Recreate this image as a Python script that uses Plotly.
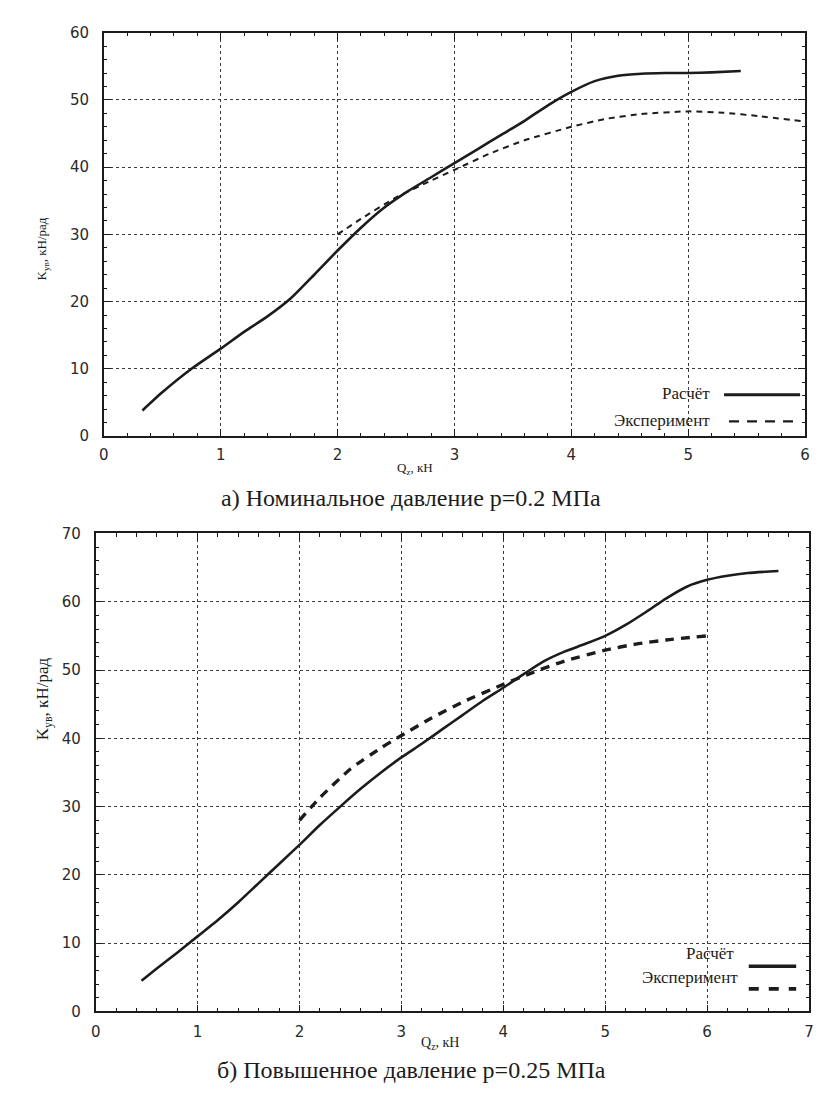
import plotly.graph_objects as go

# ---------- data: panel (a) nominal pressure p=0.2 MPa ----------
qa_calc = [0.33, 0.5, 0.75, 1.0, 1.2, 1.4, 1.6, 1.8, 2.0, 2.2, 2.4, 2.6, 2.8, 3.0,
           3.2, 3.4, 3.6, 3.8, 4.0, 4.2, 4.4, 4.6, 4.8, 5.0, 5.2, 5.45]
ka_calc = [3.8, 6.5, 10.0, 13.0, 15.5, 17.8, 20.5, 24.0, 27.6, 31.0, 34.0, 36.4, 38.5, 40.6,
           42.7, 44.8, 46.9, 49.2, 51.2, 52.8, 53.6, 53.9, 54.0, 54.0, 54.1, 54.3]
qa_exp = [2.0, 2.2, 2.5, 2.8, 3.0, 3.3, 3.6, 4.0, 4.3, 4.6, 5.0, 5.3, 5.6, 6.0]
ka_exp = [30.0, 32.3, 35.5, 38.0, 39.6, 42.0, 44.0, 46.0, 47.2, 47.9, 48.3, 48.1, 47.6, 46.8]

# ---------- data: panel (б) raised pressure p=0.25 MPa ----------
qb_calc = [0.45, 0.6, 0.8, 1.0, 1.2, 1.4, 1.6, 1.8, 2.0, 2.2, 2.4, 2.6, 2.8, 3.0,
           3.2, 3.4, 3.6, 3.8, 4.0, 4.2, 4.4, 4.6, 4.8, 5.0, 5.2, 5.4, 5.6, 5.8,
           6.0, 6.2, 6.4, 6.7]
kb_calc = [4.5, 6.3, 8.6, 11.0, 13.4, 16.0, 18.8, 21.6, 24.4, 27.3, 30.0, 32.6, 35.0, 37.2,
           39.2, 41.3, 43.4, 45.5, 47.4, 49.4, 51.3, 52.7, 53.8, 55.0, 56.6, 58.5, 60.5, 62.2,
           63.2, 63.8, 64.2, 64.5]
qb_exp = [2.0, 2.2, 2.5, 2.8, 3.0, 3.3, 3.6, 4.0, 4.3, 4.6, 5.0, 5.3, 5.6, 6.0]
kb_exp = [28.0, 31.3, 35.5, 38.6, 40.4, 43.0, 45.3, 47.9, 49.7, 51.3, 52.9, 53.8, 54.4, 55.0]

xticks_a = [0, 1, 2, 3, 4, 5, 6]
yticks_a = [0, 10, 20, 30, 40, 50, 60]
xticks_b = [0, 1, 2, 3, 4, 5, 6, 7]
yticks_b = [0, 10, 20, 30, 40, 50, 60, 70]

# page is 823x1118; the html body has an 8px margin on every side
PAGE_W, PAGE_H, BODY = 823, 1118, 8
W, H = PAGE_W - 2 * BODY, PAGE_H - 2 * BODY
def px(x):
    return min(1.0, max(0.0, (x - BODY) / W))
def py(y):
    return min(1.0, max(0.0, 1 - (y - BODY) / H))

INK = "#1c1c1c"
SERIF = "Liberation Serif"
SANS = "DejaVu Sans"

fig = go.Figure()
fig.add_trace(go.Scatter(x=qa_calc, y=ka_calc, mode="lines", xaxis="x", yaxis="y",
                         line=dict(color=INK, width=2.6, shape="spline", smoothing=0.6),
                         name="Расчёт", showlegend=False))
fig.add_trace(go.Scatter(x=qa_exp, y=ka_exp, mode="lines", xaxis="x", yaxis="y",
                         line=dict(color=INK, width=2.0, dash="6px,5px", shape="spline", smoothing=0.6),
                         name="Эксперимент", showlegend=False))
fig.add_trace(go.Scatter(x=qb_calc, y=kb_calc, mode="lines", xaxis="x2", yaxis="y2",
                         line=dict(color=INK, width=2.6, shape="spline", smoothing=0.6),
                         name="Расчёт", showlegend=False))
fig.add_trace(go.Scatter(x=qb_exp, y=kb_exp, mode="lines", xaxis="x2", yaxis="y2",
                         line=dict(color=INK, width=3.4, dash="9px,7px", shape="spline", smoothing=0.6),
                         name="Эксперимент", showlegend=False))

def axis(rng, ticks, minor_dtick, domain, anchor, standoff):
    return dict(
        range=rng, tickvals=ticks, domain=domain, anchor=anchor,
        showline=True, linecolor=INK, linewidth=1.6, mirror="allticks",
        ticks="inside", ticklen=7, tickwidth=1.3, tickcolor=INK,
        minor=dict(ticks="inside", dtick=minor_dtick, ticklen=3.5, tickwidth=1, tickcolor=INK,
                   showgrid=False),
        showgrid=True, gridcolor="#3a3a3a", gridwidth=1, griddash="dot",
        zeroline=False, tickfont=dict(family=SANS, size=15, color="#2a2a2a"),
        ticklabelstandoff=standoff,
        fixedrange=True,
    )

fig.update_layout(
    width=W, height=H, paper_bgcolor="white", plot_bgcolor="white",
    margin=dict(l=0, r=0, t=0, b=0),
    xaxis=axis([0, 6], xticks_a, 0.2, [px(100), px(810)], "y", 4),
    yaxis=axis([0, 60], yticks_a, 2, [py(434), py(24)], "x", 10),
    xaxis2=axis([0, 7], xticks_b, 0.2, [px(91.7), px(814)], "y2", 6),
    yaxis2=axis([0, 70], yticks_b, 2, [py(1019), py(533)], "x2", 10),
)

ann = []
# axis titles
ann.append(dict(text="K<sub>ув</sub>, кН/рад", x=px(27), y=py(210), xref="paper", yref="paper",
                textangle=-90, showarrow=False, font=dict(family=SERIF, size=13, color=INK)))
ann.append(dict(text="Q<sub>z</sub>, кН", x=px(415), y=py(467), xref="paper", yref="paper",
                showarrow=False, font=dict(family=SERIF, size=13, color=INK)))
ann.append(dict(text="K<sub>ув</sub>, кН/рад", x=px(27), y=py(745), xref="paper", yref="paper",
                textangle=-90, showarrow=False, font=dict(family=SERIF, size=17, color=INK)))
ann.append(dict(text="Q<sub>z</sub>, кН", x=px(440), y=py(1062), xref="paper", yref="paper",
                showarrow=False, font=dict(family=SERIF, size=14, color=INK)))
# captions
ann.append(dict(text="а) Номинальное давление p=0.2 МПа", x=px(411), y=py(497), xref="paper", yref="paper",
                showarrow=False, font=dict(family=SERIF, size=24, color=INK)))
ann.append(dict(text="б) Повышенное давление p=0.25 МПа", x=px(411), y=py(1094), xref="paper", yref="paper",
                showarrow=False, font=dict(family=SERIF, size=24, color=INK)))
# legends (text right-aligned before sample line)
ann.append(dict(text="Расчёт", x=px(716), y=py(391), xref="paper", yref="paper", xanchor="right",
                showarrow=False, font=dict(family=SERIF, size=17, color=INK)))
ann.append(dict(text="Эксперимент", x=px(716), y=py(418), xref="paper", yref="paper", xanchor="right",
                showarrow=False, font=dict(family=SERIF, size=17, color=INK)))
ann.append(dict(text="Расчёт", x=px(740), y=py(972), xref="paper", yref="paper", xanchor="right",
                showarrow=False, font=dict(family=SERIF, size=17, color=INK)))
ann.append(dict(text="Эксперимент", x=px(744), y=py(996), xref="paper", yref="paper", xanchor="right",
                showarrow=False, font=dict(family=SERIF, size=17, color=INK)))
fig.update_layout(annotations=ann)

shapes = [
    dict(type="line", xref="paper", yref="paper", x0=px(728), x1=px(805), y0=py(392), y1=py(392),
         line=dict(color=INK, width=3)),
    dict(type="line", xref="paper", yref="paper", x0=px(733), x1=px(805), y0=py(419), y1=py(419),
         line=dict(color=INK, width=2.2, dash="10px,8px")),
    dict(type="line", xref="paper", yref="paper", x0=px(753), x1=px(801), y0=py(973), y1=py(973),
         line=dict(color=INK, width=3.4)),
    dict(type="line", xref="paper", yref="paper", x0=px(753), x1=px(801), y0=py(996), y1=py(996),
         line=dict(color=INK, width=3.6, dash="10px,10px")),
]
fig.update_layout(shapes=shapes)

fig.write_html("out.html")
